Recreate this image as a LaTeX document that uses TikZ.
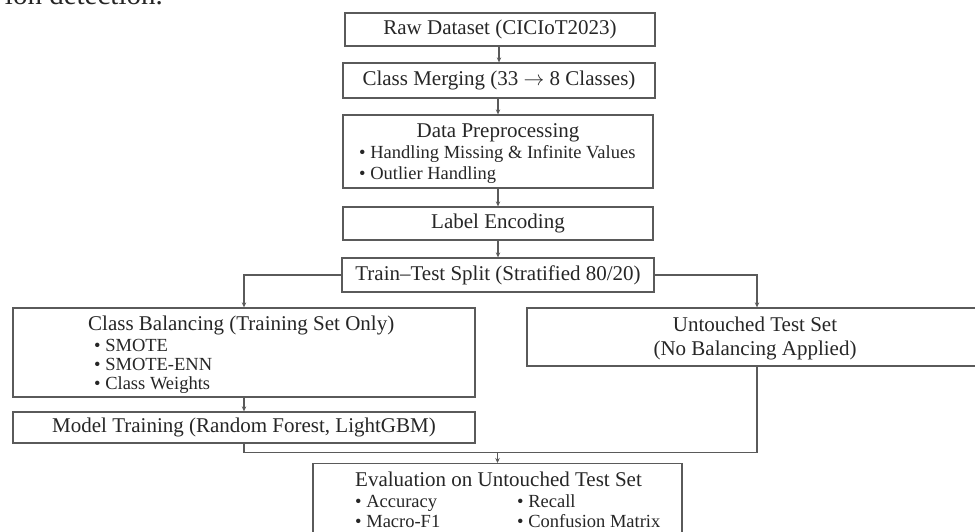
\documentclass[tikz,border=0pt]{standalone}
\usepackage{fontspec}
\setmainfont{Liberation Serif}
\usetikzlibrary{arrows.meta}
\definecolor{inkline}{HTML}{5A5A5A}
\definecolor{inktext}{HTML}{262626}
\newcommand{\headfont}{\fontsize{21}{24}\selectfont}
\newcommand{\itemfont}{\fontsize{18.5}{21}\selectfont}
\begin{document}
\begin{tikzpicture}[x=1pt,y=-1pt,
  box/.style={draw=inkline, line width=1.3pt, text=inktext, inner sep=0pt, font=\headfont},
  txt/.style={text=inktext, inner sep=0pt, anchor=base west},
  flow/.style={draw=inkline, line width=1.1pt, -{Stealth[length=5pt,width=4.5pt]}},
  link/.style={draw=inkline, line width=1.1pt}]
\useasboundingbox (0,0) rectangle (975,532);
\clip (0,0) rectangle (975,532);

% tail of the caption line above the chart
\node[txt, anchor=base east, font=\fontsize{29}{32}\selectfont] (cap) at (163,5) {ion detection.};

% main pipeline
\node[box, minimum width=310, minimum height=33] (raw) at (500,29.5) {Raw Dataset (CICIoT2023)};
\node[box, minimum width=312, minimum height=35] (merge) at (499,80.5) {Class Merging (33 $\rightarrow$ 8 Classes)};
\node[box, minimum width=310, minimum height=73] (prep) at (498,151.5) {};
\node[txt, anchor=base] (preph) at (498,138) {\headfont Data Preprocessing};
\node[txt] (prep1) at (359,159) {\itemfont \textbullet\ Handling Missing \& Infinite Values};
\node[txt] (prep2) at (359,179) {\itemfont \textbullet\ Outlier Handling};
\node[box, minimum width=310, minimum height=33] (label) at (498,223.5) {Label Encoding};
\node[box, minimum width=312, minimum height=34] (split) at (498,275) {Train--Test Split (Stratified 80/20)};

% training branch
\node[box, minimum width=462, minimum height=89] (bal) at (244,352.5) {};
\node[txt] (balh) at (88,330) {\headfont Class Balancing (Training Set Only)};
\node[txt] (bal1) at (94,351) {\itemfont \textbullet\ SMOTE};
\node[txt] (bal2) at (94,370) {\itemfont \textbullet\ SMOTE-ENN};
\node[txt] (bal3) at (94,389) {\itemfont \textbullet\ Class Weights};
\node[box, minimum width=462, minimum height=31] (train) at (244,427.5) {Model Training (Random Forest, LightGBM)};

% test branch
\node[box, minimum width=456, minimum height=58, align=center] (test) at (755,337) {};
\node[txt, anchor=base] (test1) at (755,331) {\headfont Untouched Test Set};
\node[txt, anchor=base] (test2) at (755,355) {\headfont (No Balancing Applied)};

% evaluation
\node[box, minimum width=369, minimum height=80, anchor=north] (eval) at (497.5,463) {};
\node[txt] (evalh) at (355,486) {\headfont Evaluation on Untouched Test Set};
\node[txt] (ev1) at (355,507) {\itemfont \textbullet\ Accuracy};
\node[txt] (ev2) at (355,527) {\itemfont \textbullet\ Macro-F1};
\node[txt] (ev3) at (517,507) {\itemfont \textbullet\ Recall};
\node[txt] (ev4) at (517,527) {\itemfont \textbullet\ Confusion Matrix};

% connectors
\draw[flow] (raw.south -| merge.north) -- (merge.north);
\draw[flow] (merge.south -| prep.north) -- (prep.north);
\draw[flow] (prep.south) -- (label.north);
\draw[flow] (label.south) -- (split.north);
\draw[flow] (split.west) -| (bal.north);
\draw[flow] (split.east) -| ([xshift=2pt]test.north);
\draw[flow] (bal.south) -- (train.north);
\coordinate (join) at (497.5,452.5);
\draw[link] (train.south) |- ([xshift=2pt]test.south |- join);
\draw[link] ([xshift=2pt]test.south) -- ([xshift=2pt]test.south |- join);
\draw[flow] (join) -- (eval.north);
\end{tikzpicture}
\end{document}
